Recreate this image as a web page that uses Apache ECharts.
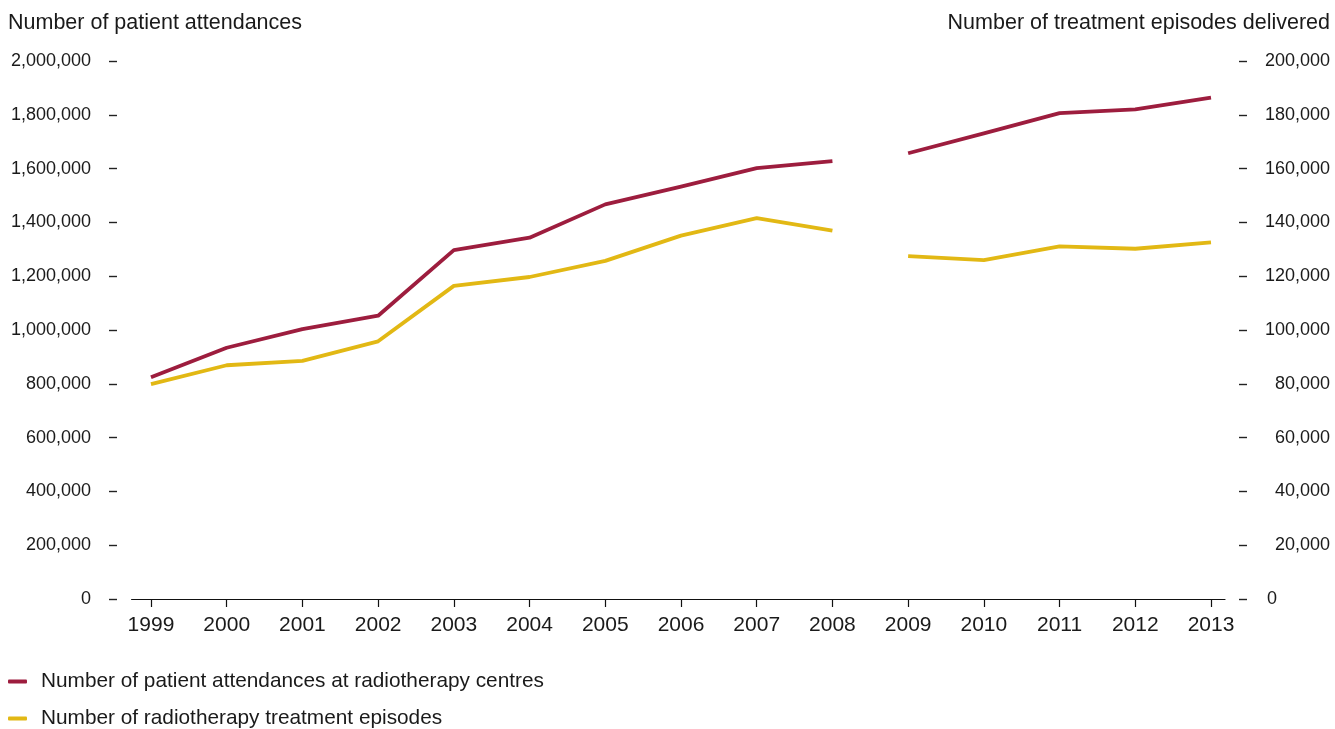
<!DOCTYPE html>
<html>
<head>
<meta charset="utf-8">
<script src="https://cdn.jsdelivr.net/npm/echarts@6/dist/echarts.min.js"></script>
<style>
html,body{margin:0;padding:0;background:#fff;}
#chart{width:1335px;height:729px;}
</style>
</head>
<body>
<div id="chart"></div>
<script>
// ---- data ----
const years = [1999,2000,2001,2002,2003,2004,2005,2006,2007,2008,2009,2010,2011,2012,2013];
const attendances = [824000,934000,1003000,1053000,1297000,1343000,1467000,1533000,1602000,1628000,1657000,1731000,1806000,1820000,1864000];
const episodes = [79900,86900,88500,95800,116400,119700,125700,135100,141600,136900,127500,126000,131100,130200,132600];
const breakAfterYear = 2008; // lines are interrupted between 2008 and 2009
const nameAtt = 'Number of patient attendances at radiotherapy centres';
const nameEp = 'Number of radiotherapy treatment episodes';
const leftTitle = 'Number of patient attendances';
const rightTitle = 'Number of treatment episodes delivered';

const RED = '#9d1d3e';
const YEL = '#e2b814';
const TXT = '#1a1a1a';
const FONT = '"Liberation Sans", Arial, sans-serif';

function segments(vals){
  const a = [], b = [];
  years.forEach((y,i)=>{ (y <= breakAfterYear ? a : b).push([y, vals[i]]); });
  return [a,b];
}
const [attA, attB] = segments(attendances);
const [epA, epB] = segments(episodes);

function fmt(v){ return v.toLocaleString('en-US'); }

function lineSeries(name, data, color, yIdx){
  return {
    name: name, type:'line', data: data, yAxisIndex: yIdx,
    symbol:'none', color: color,
    lineStyle:{color: color, width: 3.8, cap:'butt', join:'round'},
    emphasis:{disabled:true}, animation:false
  };
}

function legendRow(name, top){
  return {
    orient:'horizontal', left:3, top:top,
    itemWidth:19, itemHeight:4, icon:'roundRect',
    data:[name],
    textStyle:{fontFamily:FONT, fontSize:20.8, color:TXT, padding:[0,0,0,9]}
  };
}

const chart = echarts.init(document.getElementById('chart'));
chart.setOption({
  backgroundColor:'#fff',
  animation:false,
  title:[
    {text:leftTitle, left:3, top:7, textStyle:{fontFamily:FONT, fontSize:21.5, fontWeight:'normal', color:TXT}},
    {text:rightTitle, right:0, top:7, textStyle:{fontFamily:FONT, fontSize:21.5, fontWeight:'normal', color:TXT}}
  ],
  grid:{left:131.6, right:110, top:61, bottom:130, containLabel:false},
  legend:[ legendRow(nameAtt, 666), legendRow(nameEp, 703) ],
  xAxis:{
    type:'value', min:1998.744, max:2013.185,
    splitLine:{show:false},
    axisLine:{show:true, lineStyle:{color:'#111', width:1.2}},
    axisTick:{show:true, customValues:years, length:8, lineStyle:{color:'#111', width:1.2}},
    axisLabel:{customValues:years, margin:16, fontFamily:FONT, fontSize:21, color:TXT, formatter:v=>String(v)}
  },
  yAxis:[
    {
      type:'value', position:'left', offset:14.6, min:0, max:2000000, interval:200000,
      splitLine:{show:false}, axisLine:{show:false},
      axisTick:{show:true, length:8, lineStyle:{color:'#222', width:1.4}},
      axisLabel:{margin:26, fontFamily:FONT, fontSize:18, color:TXT, formatter:v=>fmt(v)}
    },
    {
      type:'value', position:'right', offset:14, min:0, max:200000, interval:20000,
      splitLine:{show:false}, axisLine:{show:false},
      axisTick:{show:true, length:8, lineStyle:{color:'#222', width:1.4}},
      axisLabel:{margin:91, align:'right', fontFamily:FONT, fontSize:18, color:TXT,
        formatter:v=> v===0 ? '{z|0}' : fmt(v),
        rich:{z:{fontFamily:FONT, fontSize:18, color:TXT, padding:[0,53,0,0]}}}
    }
  ],
  series:[
    lineSeries(nameAtt, attA, RED, 0),
    lineSeries(nameAtt, attB, RED, 0),
    lineSeries(nameEp, epA, YEL, 1),
    lineSeries(nameEp, epB, YEL, 1)
  ]
});
</script>
</body>
</html>
